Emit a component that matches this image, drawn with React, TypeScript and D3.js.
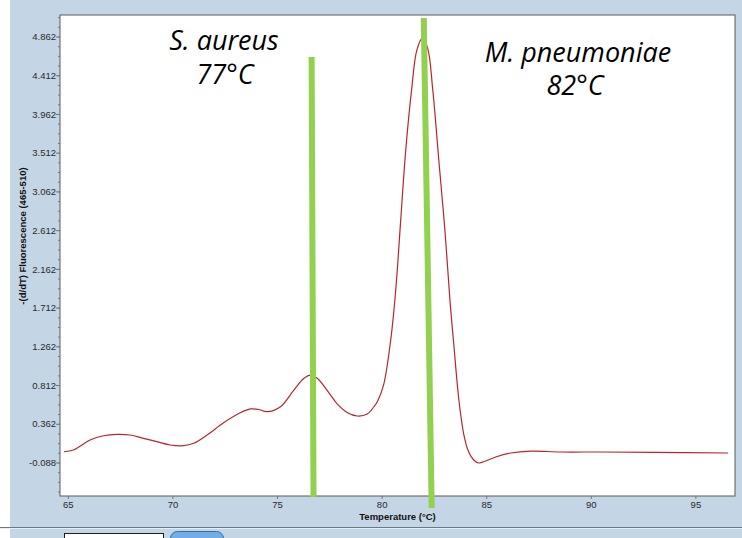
import * as d3 from 'd3';

// melt curve, -(d/dT) fluorescence vs temperature
const temps = [
  64.79, 65.24, 66.04, 66.68, 67.32, 67.95, 68.59, 69.23, 69.87, 70.51, 70.99, 71.63, 72.42, 73.22,
  73.71, 74.09, 74.5, 75.14, 75.78, 76.26, 76.58, 76.9, 77.45, 77.85, 78.33, 78.81, 79.29, 79.61,
  79.77, 80.07, 80.41, 80.65, 80.89, 81.13, 81.41, 81.66, 81.93, 82.18, 82.42, 82.71, 83.0, 83.24,
  83.43, 83.67, 83.91, 84.14, 84.38, 84.62, 84.95, 85.43, 86.15, 87.11, 88.55, 90.5, 93.0, 96.54,
];
const fluor = [
  0.043, 0.063, 0.179, 0.229, 0.245, 0.237, 0.199, 0.16, 0.121, 0.113, 0.141, 0.237, 0.38, 0.496,
  0.54, 0.534, 0.508, 0.566, 0.76, 0.896, 0.934, 0.896, 0.73, 0.6, 0.5, 0.458, 0.481, 0.566,
  0.624, 0.82, 1.34, 1.92, 2.74, 3.55, 4.25, 4.71, 4.85, 4.73, 4.25, 3.43, 2.62, 1.81,
  1.28, 0.644, 0.237, 0.04, -0.053, -0.088, -0.065, -0.018, 0.028, 0.05, 0.04, 0.04, 0.035, 0.028,
];

const yTickValues = [-0.088, 0.362, 0.812, 1.262, 1.712, 2.162, 2.612, 3.062, 3.512, 3.962, 4.412, 4.862];
const xTickValues = [65, 70, 75, 80, 85, 90, 95];

// hand-drawn marker bars: temperature at top / bottom, value at top / bottom
const markerNames = ['S. aureus', 'M. pneumoniae'];
const markerTemps = ['77°C', '82°C'];
const markerTopT = [76.63, 81.99];
const markerBottomT = [76.72, 82.37];
const markerTopV = [4.63, 5.083];
const markerBottomV = [-0.483, -0.611];

const W = 742;
const H = 538;
const plot = { left: 60, right: 735, top: 15, bottom: 496 };
const bg = '#c4d5e5';

export default function App() {
  const x = d3.scaleLinear().domain([64.6, 96.87]).range([plot.left, plot.right]);
  const y = d3.scaleLinear().domain([-0.088, 4.862]).range([463, 37]);

  const points = temps.map((t, i) => [t, fluor[i]] as [number, number]);
  const line = d3
    .line<[number, number]>()
    .x((d) => x(d[0]))
    .y((d) => y(d[1]))
    .curve(d3.curveCatmullRom.alpha(0.5));

  const minorTicks: number[] = [];
  for (let v = -0.088 - 0.1125 * 3; v < y.invert(plot.top); v += 0.1125) {
    if (y(v) < plot.bottom && y(v) > plot.top) minorTicks.push(v);
  }

  const axisFont = '"Liberation Sans", Arial, sans-serif';
  const noteFont = '"Open Sans", "Noto Sans", sans-serif';

  return (
    <svg width={W} height={H} style={{ position: 'absolute', left: 0, top: 0 }} fontFamily={axisFont}>
      <rect x={0} y={0} width={W} height={H} fill="#ffffff" />
      <rect x={10} y={0} width={W - 10} height={H} fill={bg} />
      <line x1={0} x2={W} y1={527.5} y2={527.5} stroke="#6b7886" />
      <line x1={0} x2={W} y1={528.5} y2={528.5} stroke="#e6edf4" />

      {/* bottom controls peeking in */}
      <rect x={64.5} y={533.5} width={99} height={12} fill="#ffffff" stroke="#1e1e1e" />
      <rect x={170.5} y={531.5} width={53} height={16} rx={7} fill="#74ade3" stroke="#3a6c9e" />

      <rect
        x={plot.left}
        y={plot.top}
        width={plot.right - plot.left}
        height={plot.bottom - plot.top}
        fill="#ffffff"
        stroke="#5a5a5a"
        strokeWidth={1}
      />

      {/* y axis */}
      {minorTicks.map((v, i) => (
        <line key={'m' + i} x1={plot.left - 2} x2={plot.left} y1={y(v)} y2={y(v)} stroke="#777" />
      ))}
      {yTickValues.map((v) => (
        <g key={'y' + v} transform={`translate(0,${y(v)})`}>
          <line x1={plot.left - 4} x2={plot.left} stroke="#777" />
          <text x={plot.left - 4} dy="0.33em" textAnchor="end" fontSize={9.5} fill="#2a2a2a">
            {v.toFixed(3)}
          </text>
        </g>
      ))}
      <text
        transform={`translate(23,236) rotate(-90)`}
        textAnchor="middle"
        dy="0.33em"
        fontSize={9.5}
        fontWeight={700}
        fill="#111"
      >
        -(d/dT) Fluorescence (465-510)
      </text>

      {/* x axis */}
      {xTickValues.map((t) => (
        <g key={'x' + t} transform={`translate(${x(t)},0)`}>
          <line y1={plot.bottom} y2={plot.bottom + 3} stroke="#777" />
          <text y={508} textAnchor="middle" fontSize={9.5} fill="#2a2a2a">
            {t}
          </text>
        </g>
      ))}
      <text x={(plot.left + plot.right) / 2} y={520} textAnchor="middle" fontSize={9.5} fontWeight={700} fill="#111">
        Temperature (°C)
      </text>

      <path d={line(points) ?? ''} fill="none" stroke="#b8262c" strokeWidth={1.2} />

      {markerNames.map((name, i) => (
        <line
          key={name}
          x1={x(markerTopT[i])}
          x2={x(markerBottomT[i])}
          y1={y(markerTopV[i])}
          y2={y(markerBottomV[i])}
          stroke="#92d050"
          strokeWidth={6}
        />
      ))}

      <g fontFamily={noteFont} fontStyle="italic" fontSize={27} fill="#000" textAnchor="middle">
        <text x={224} y={50}>{markerNames[0]}</text>
        <text x={225} y={84}>{markerTemps[0]}</text>
        <text x={578} y={62}>{markerNames[1]}</text>
        <text x={575} y={95}>{markerTemps[1]}</text>
      </g>
    </svg>
  );
}
